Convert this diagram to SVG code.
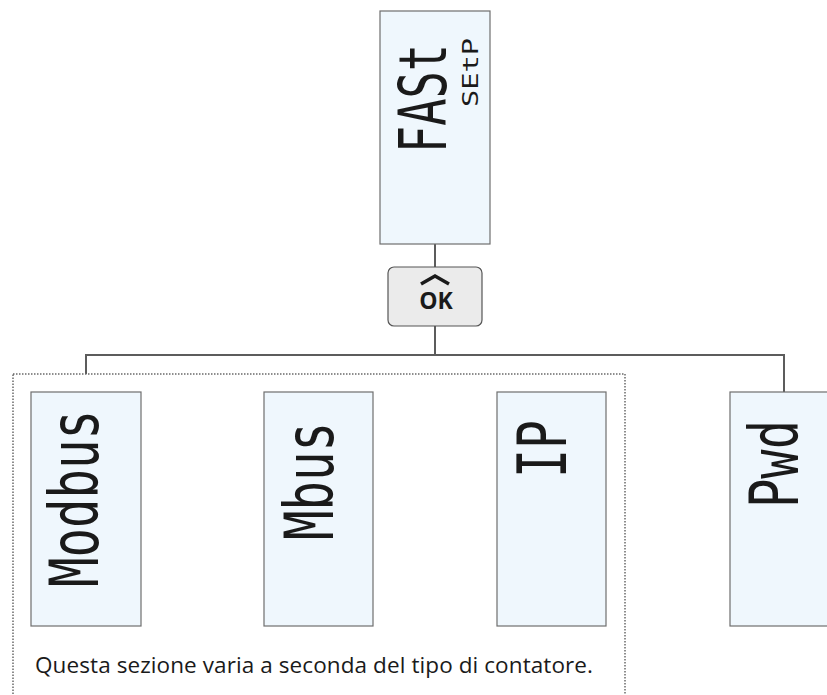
<svg xmlns="http://www.w3.org/2000/svg" width="827" height="695" viewBox="0 0 827 695">
<style>
.lcd{fill:#eff7fd;stroke:#6e6e6e;stroke-width:1.2}
.seg{font-family:"DejaVu Sans Mono","Liberation Mono",monospace;fill:#1a1a1a}
.conn{stroke:#5c5c5c;stroke-width:2;fill:none}
.note{font-family:"Open Sans","Noto Sans",sans-serif;font-size:22.5px;fill:#1a1a1a}
</style>
<rect width="827" height="695" fill="#ffffff"/>
<g id="connectors">
<line class="conn" x1="435" y1="244" x2="435" y2="267"/>
<line class="conn" x1="435" y1="326" x2="435" y2="355"/>
<polyline class="conn" points="86,374 86,355 784,355 784,392"/>
</g>
<g id="variable-section">
<rect x="13" y="374" width="612" height="340" fill="none" stroke="#6a6a6a" stroke-width="1.5" stroke-dasharray="1.5 1.5"/>
<text class="note" x="35" y="673" textLength="558" lengthAdjust="spacing">Questa sezione varia a seconda del tipo di contatore.</text>
</g>
<g id="display-fast">
<rect class="lcd" x="380" y="11" width="110" height="233"/>
<text class="seg" transform="translate(446,153) rotate(-90)" font-size="66" textLength="109" lengthAdjust="spacingAndGlyphs">FASt</text>
<text class="seg" transform="translate(478,107) rotate(-90)" font-size="21" textLength="69" lengthAdjust="spacingAndGlyphs">SEtP</text>
</g>
<g id="btn-ok">
<rect x="388" y="267" width="94" height="59" rx="6" fill="#ebebeb" stroke="#555555" stroke-width="1.2"/>
<polyline points="421,284 435,276 449,284" fill="none" stroke="#1a1a1a" stroke-width="3.5"/>
<text x="436" y="309" text-anchor="middle" font-family="'Open Sans','Noto Sans',sans-serif" font-weight="bold" font-size="23" fill="#1a1a1a">OK</text>
</g>
<g id="display-modbus">
<rect class="lcd" x="31" y="392" width="110" height="234"/>
<text class="seg" transform="translate(98,587) rotate(-90)" font-size="68" textLength="177" lengthAdjust="spacingAndGlyphs">Modbus</text>
</g>
<g id="display-mbus">
<rect class="lcd" x="264" y="392" width="109" height="234"/>
<text class="seg" transform="translate(333,540) rotate(-90)" font-size="68" textLength="118" lengthAdjust="spacingAndGlyphs">Mbus</text>
</g>
<g id="display-ip">
<rect class="lcd" x="497" y="392" width="109" height="234"/>
<text class="seg" transform="translate(566,478) rotate(-90)" font-size="68" textLength="58" lengthAdjust="spacingAndGlyphs">IP</text>
</g>
<g id="display-pwd">
<rect class="lcd" x="730" y="392" width="110" height="234"/>
<text class="seg" transform="translate(798,508) rotate(-90)" font-size="68" textLength="88" lengthAdjust="spacingAndGlyphs">Pwd</text>
</g>
</svg>
